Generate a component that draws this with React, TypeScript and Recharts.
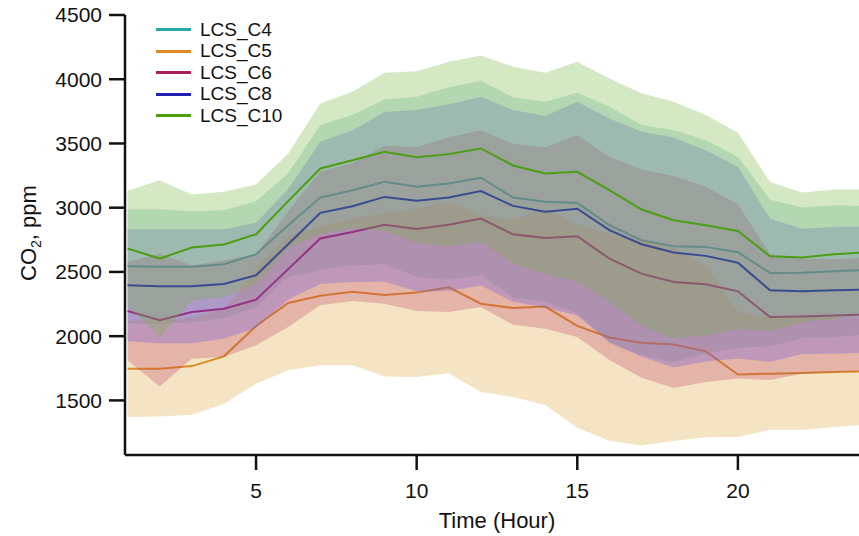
import { Area, ComposedChart, Label, Line, XAxis, YAxis } from "recharts";

// hourly CO2 means and spreads, one pair per sensor
const hours = [1, 2, 3, 4, 5, 6, 7, 8, 9, 10, 11, 12, 13, 14, 15, 16, 17, 18, 19, 20, 21, 22, 23, 24];

const c4Mean = [2544, 2541, 2541, 2560, 2638, 2864, 3079, 3136, 3201, 3163, 3188, 3233, 3079, 3047, 3037, 2864, 2747, 2700, 2695, 2653, 2492, 2494, 2505, 2515];
const c4Sd = [444, 447, 432, 421, 413, 404, 564, 585, 642, 700, 750, 755, 780, 777, 858, 922, 896, 903, 831, 743, 572, 508, 514, 500];

const c5Mean = [1747, 1747, 1767, 1843, 2079, 2258, 2314, 2345, 2321, 2339, 2380, 2253, 2219, 2230, 2080, 1990, 1948, 1935, 1882, 1702, 1708, 1713, 1721, 1726];
const c5Sd = [377, 372, 379, 369, 449, 524, 541, 572, 634, 657, 668, 688, 693, 766, 792, 805, 800, 751, 668, 486, 437, 442, 429, 416];

const c6Mean = [2196, 2125, 2188, 2214, 2284, 2522, 2760, 2811, 2868, 2834, 2868, 2915, 2793, 2764, 2778, 2604, 2487, 2422, 2404, 2349, 2149, 2154, 2160, 2168];
const c6Sd = [384, 516, 363, 376, 355, 451, 520, 537, 615, 638, 680, 688, 705, 706, 785, 790, 810, 825, 760, 678, 490, 446, 440, 440];

const c8Mean = [2396, 2388, 2388, 2406, 2474, 2716, 2960, 3012, 3084, 3054, 3079, 3129, 3014, 2968, 2992, 2825, 2716, 2651, 2625, 2572, 2357, 2349, 2357, 2363];
const c8Sd = [436, 444, 444, 426, 408, 430, 553, 590, 660, 706, 727, 734, 746, 745, 832, 870, 876, 895, 823, 746, 558, 488, 493, 493];

const c10Mean = [2682, 2604, 2690, 2713, 2793, 3051, 3305, 3370, 3435, 3393, 3417, 3461, 3329, 3266, 3279, 3136, 2986, 2902, 2864, 2819, 2622, 2612, 2638, 2652];
const c10Sd = [449, 610, 413, 411, 388, 371, 507, 532, 615, 670, 719, 724, 768, 784, 857, 870, 904, 922, 857, 764, 579, 506, 503, 489];

const yTicks = [1500, 2000, 2500, 3000, 3500, 4000, 4500];
const xTicks = [5, 10, 15, 20];

// draw order matters: each band is laid over the lines drawn before it
const sensors = [
  { key: "c4", name: "LCS_C4", mean: c4Mean, sd: c4Sd, line: "#2aa8a8", band: "#5fb4a6" },
  { key: "c5", name: "LCS_C5", mean: c5Mean, sd: c5Sd, line: "#d98a22", band: "#d9a43c" },
  { key: "c6", name: "LCS_C6", mean: c6Mean, sd: c6Sd, line: "#a8205e", band: "#c04468" },
  { key: "c8", name: "LCS_C8", mean: c8Mean, sd: c8Sd, line: "#1f1fb4", band: "#6a5ae0" },
  { key: "c10", name: "LCS_C10", mean: c10Mean, sd: c10Sd, line: "#4b9e12", band: "#75b43c" },
];

const rows = hours.map((hour, i) => {
  const row: Record<string, number | number[]> = { hour };
  sensors.forEach((s) => {
    row[s.key] = s.mean[i];
    row[s.key + "Band"] = [s.mean[i] - s.sd[i], s.mean[i] + s.sd[i]];
  });
  return row;
});

const font = "'Liberation Sans', Arial, sans-serif";

function YTitle() {
  return (
    <text
      x={36}
      y={233}
      transform="rotate(-90, 36, 233)"
      textAnchor="middle"
      fontSize={22}
      fill="#111"
      fontFamily={font}
    >
      CO
      <tspan fontSize={14} dy={5}>2</tspan>
      <tspan dy={-5}>, ppm</tspan>
    </text>
  );
}

function ChartLegend() {
  return (
    <div style={{ position: "absolute", left: 156, top: 19, fontFamily: font, fontSize: 19, color: "#111" }}>
      {sensors.map((s) => (
        <div key={s.key} style={{ display: "flex", alignItems: "center", height: 21.5 }}>
          <span style={{ display: "inline-block", width: 35, height: 3, background: s.line, marginRight: 9 }} />
          {s.name}
        </div>
      ))}
    </div>
  );
}

export default function App() {
  const layers: JSX.Element[] = [];
  sensors.forEach((s, i) => {
    layers.push(
      <Area
        key={s.key + "-band"}
        type="linear"
        dataKey={s.key + "Band"}
        stroke="none"
        fill={s.band}
        fillOpacity={0.3}
        isAnimationActive={false}
        activeDot={false}
        zIndex={101 + i * 2}
      />,
    );
    layers.push(
      <Line
        key={s.key + "-line"}
        type="linear"
        dataKey={s.key}
        stroke={s.line}
        strokeWidth={2}
        dot={false}
        activeDot={false}
        isAnimationActive={false}
        zIndex={102 + i * 2}
      />,
    );
  });

  return (
    <div style={{ position: "relative", width: 859, height: 536, background: "#fff" }}>
      <style>{`body { margin: 0; }`}</style>
      <ComposedChart
        width={859}
        height={536}
        data={rows}
        margin={{ top: 15, right: 0, bottom: 0, left: 0 }}
        style={{ fontFamily: font }}
      >
        <XAxis
          type="number"
          dataKey="hour"
          domain={[0.92, 23.77]}
          allowDataOverflow
          ticks={xTicks}
          height={81}
          tickSize={15}
          tickMargin={13}
          axisLine={{ stroke: "#111", strokeWidth: 2.5 }}
          tickLine={{ stroke: "#111", strokeWidth: 2.5 }}
          tick={{ fill: "#111", fontSize: 21 }}
        >
          <Label value="Time (Hour)" position="insideBottom" offset={8} dx={5} fontSize={22} fill="#111" />
        </XAxis>
        <YAxis
          type="number"
          domain={[1075, 4500]}
          allowDataOverflow
          ticks={yTicks}
          width={125}
          tickSize={16}
          tickMargin={7}
          axisLine={{ stroke: "#111", strokeWidth: 2.5 }}
          tickLine={{ stroke: "#111", strokeWidth: 2.5 }}
          tick={{ fill: "#111", fontSize: 21 }}
        >
          <Label content={<YTitle />} />
        </YAxis>
        {layers}
      </ComposedChart>
      <ChartLegend />
    </div>
  );
}
